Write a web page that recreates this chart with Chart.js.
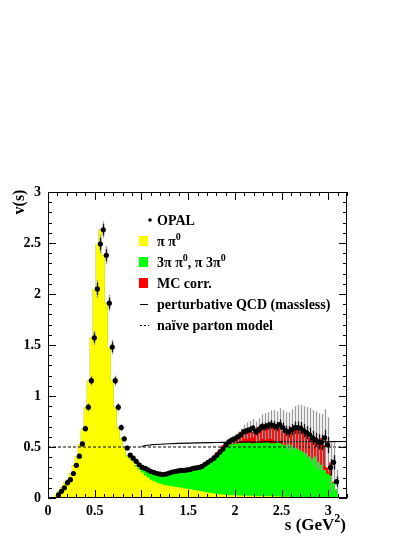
<!DOCTYPE html>
<html>
<head>
<meta charset="utf-8">
<script src="https://cdn.jsdelivr.net/npm/chart.js@4.4.1/dist/chart.umd.min.js"></script>
<style>
  html, body { margin: 0; padding: 0; background: #fff; }
  #chart { display: block; }
</style>
</head>
<body>
<canvas id="chart" width="415" height="537"></canvas>
<script>
// histogram bins of 0.032 GeV^2 from 0 to 3.2
const binWidth = 0.032;

// pi pi0 contribution (yellow)
const pipi0 = [
  0, 0, 0.01, 0.03, 0.065, 0.10, 0.15, 0.18, 0.24, 0.32,
  0.41, 0.53, 0.68, 0.89, 1.15, 1.57, 2.05, 2.49, 2.63, 2.38,
  1.91, 1.48, 1.15, 0.89, 0.69, 0.58, 0.49, 0.41, 0.38, 0.35,
  0.31, 0.28, 0.25, 0.22, 0.20, 0.18, 0.165, 0.15, 0.14, 0.13,
  0.125, 0.12, 0.115, 0.11, 0.105, 0.10, 0.095, 0.09, 0.085, 0.08,
  0.075, 0.07, 0.065, 0.06, 0.055, 0.05, 0.045, 0.04, 0.037, 0.034,
  0.03, 0.028, 0.027, 0.026, 0.025, 0.024, 0.023, 0.022, 0.021, 0.02,
  0.02, 0.018, 0.018, 0.017, 0.016, 0.016, 0.015, 0.014, 0.014, 0.013,
  0.012, 0.012, 0.011, 0.01, 0.01, 0.009, 0.009, 0.008, 0.008, 0.007,
  0.007, 0.006, 0.006, 0.005, 0.005, 0.005, 0.005, 0.005, 0, 0
];

// 3pi pi0, pi 3pi0 contribution (green)
const threePi = [
  0, 0, 0, 0, 0, 0, 0, 0, 0, 0,
  0, 0, 0, 0, 0, 0, 0, 0, 0, 0,
  0, 0, 0, 0, 0, 0, 0, 0.005, 0.005, 0.005,
  0.01, 0.015, 0.03, 0.045, 0.05, 0.06, 0.065, 0.075, 0.08, 0.095,
  0.11, 0.125, 0.135, 0.145, 0.155, 0.16, 0.17, 0.18, 0.195, 0.205,
  0.215, 0.23, 0.25, 0.275, 0.30, 0.325, 0.355, 0.39, 0.423, 0.466,
  0.49, 0.5, 0.5, 0.505, 0.51, 0.515, 0.515, 0.52, 0.525, 0.515,
  0.52, 0.525, 0.52, 0.53, 0.53, 0.52, 0.52, 0.53, 0.525, 0.51,
  0.505, 0.515, 0.505, 0.49, 0.475, 0.46, 0.445, 0.43, 0.40, 0.38,
  0.40, 0.35, 0.32, 0.27, 0.235, 0.215, 0.145, 0.075, 0, 0
];

// MC correction (red)
const mcCorr = [
  0, 0, 0, 0, 0, 0, 0, 0, 0, 0,
  0, 0, 0, 0, 0, 0, 0, 0, 0, 0,
  0, 0, 0, 0, 0, 0, 0, 0, 0, 0,
  0, 0, 0, 0, 0, 0, 0, 0.01, 0.01, 0.01,
  0.01, 0.01, 0.01, 0.01, 0.01, 0.01, 0.01, 0.01, 0.01, 0.01,
  0.01, 0.01, 0.015, 0.015, 0.015, 0.015, 0.02, 0.02, 0.02, 0.02,
  0.03, 0.042, 0.053, 0.069, 0.085, 0.111, 0.122, 0.128, 0.139, 0.115,
  0.13, 0.157, 0.162, 0.163, 0.174, 0.174, 0.165, 0.176, 0.151, 0.137,
  0.133, 0.143, 0.174, 0.19, 0.20, 0.191, 0.186, 0.182, 0.182, 0.183,
  0.143, 0.189, 0.264, 0.245, 0.06, 0.13, 0.01, 0, 0, 0
];

// OPAL measured v(s) per bin
const opal = [
  null, null, null, 0.03, 0.065, 0.10, 0.15, 0.18, 0.24, 0.32,
  0.41, 0.53, 0.68, 0.89, 1.15, 1.57, 2.05, 2.49, 2.63, 2.38,
  1.91, 1.48, 1.15, 0.89, 0.69, 0.58, 0.49, 0.42, 0.39, 0.36,
  0.325, 0.30, 0.29, 0.275, 0.26, 0.25, 0.24, 0.235, 0.23, 0.235,
  0.245, 0.255, 0.26, 0.265, 0.27, 0.27, 0.275, 0.28, 0.29, 0.295,
  0.30, 0.31, 0.33, 0.35, 0.37, 0.39, 0.42, 0.45, 0.48, 0.52,
  0.55, 0.57, 0.58, 0.60, 0.62, 0.65, 0.66, 0.67, 0.685, 0.65,
  0.67, 0.70, 0.70, 0.71, 0.72, 0.71, 0.70, 0.72, 0.69, 0.66,
  0.65, 0.67, 0.69, 0.69, 0.685, 0.66, 0.64, 0.62, 0.59, 0.57,
  0.55, 0.545, 0.59, 0.52, 0.30, 0.35, 0.16, null, null, null
];

// total errors (grey) and statistical errors (black)
const totErr = [
  0, 0, 0, 0.01, 0.012, 0.014, 0.015, 0.016, 0.018, 0.02,
  0.022, 0.025, 0.03, 0.04, 0.05, 0.07, 0.09, 0.09, 0.08, 0.09,
  0.08, 0.07, 0.05, 0.04, 0.035, 0.03, 0.025, 0.02, 0.02, 0.02,
  0.02, 0.015, 0.015, 0.015, 0.015, 0.015, 0.015, 0.015, 0.015, 0.015,
  0.015, 0.015, 0.015, 0.015, 0.015, 0.015, 0.015, 0.015, 0.015, 0.015,
  0.015, 0.02, 0.02, 0.02, 0.02, 0.02, 0.02, 0.02, 0.02, 0.03,
  0.035, 0.04, 0.045, 0.05, 0.06, 0.07, 0.08, 0.085, 0.09, 0.10,
  0.11, 0.12, 0.13, 0.13, 0.14, 0.15, 0.15, 0.16, 0.17, 0.18,
  0.19, 0.20, 0.21, 0.22, 0.23, 0.24, 0.25, 0.26, 0.27, 0.28,
  0.28, 0.28, 0.28, 0.27, 0.25, 0.20, 0.12, 0, 0, 0
];
const statErr = [
  0, 0, 0, 0.007, 0.008, 0.01, 0.01, 0.011, 0.012, 0.014,
  0.015, 0.017, 0.02, 0.027, 0.034, 0.05, 0.06, 0.06, 0.055, 0.06,
  0.055, 0.05, 0.035, 0.028, 0.024, 0.02, 0.017, 0.014, 0.014, 0.014,
  0.014, 0.01, 0.01, 0.01, 0.01, 0.01, 0.01, 0.01, 0.01, 0.01,
  0.01, 0.01, 0.01, 0.01, 0.01, 0.01, 0.01, 0.01, 0.01, 0.01,
  0.01, 0.012, 0.012, 0.012, 0.012, 0.012, 0.012, 0.012, 0.012, 0.015,
  0.015, 0.018, 0.02, 0.02, 0.025, 0.025, 0.03, 0.03, 0.03, 0.035,
  0.035, 0.04, 0.04, 0.04, 0.045, 0.045, 0.045, 0.05, 0.05, 0.05,
  0.055, 0.055, 0.06, 0.06, 0.06, 0.065, 0.065, 0.07, 0.07, 0.07,
  0.075, 0.075, 0.08, 0.08, 0.08, 0.07, 0.05, 0, 0, 0
];

// perturbative QCD (massless) and naive parton model
const qcdS = [1.0, 1.02, 1.05, 1.1, 1.2, 1.3, 1.4, 1.6, 1.8, 2.0, 2.4, 2.8, 3.2];
const qcdV = [0.503, 0.51, 0.515, 0.52, 0.527, 0.532, 0.536, 0.541, 0.544, 0.547, 0.55, 0.552, 0.554];
const naiveS = [0, 3.2];
const naiveV = [0.5, 0.5];

// axis tick labels
const xTicks = [0, 0.5, 1, 1.5, 2, 2.5, 3];
const yTicks = [0, 0.5, 1, 1.5, 2, 2.5, 3];

const legendLabels = [
  [['OPAL']],
  [['π π'], ['0', true]],
  [['3π π'], ['0', true], [', π 3π'], ['0', true]],
  [['MC corr.']],
  [['perturbative QCD (massless)']],
  [['naïve parton model']]
];

const YELLOW = '#ffff00';
const GREEN = '#00ff00';
const RED = '#ff0000';
const FONT = '"Liberation Serif", "Times New Roman", serif';

// step histogram points (lower bin edges + closing edge)
function histPoints(values) {
  const pts = values.map((v, i) => ({ x: i * binWidth, y: v }));
  pts.push({ x: values.length * binWidth, y: values[values.length - 1] });
  return pts;
}

const greenTop = pipi0.map((v, i) => v + threePi[i]);
const redTop = greenTop.map((v, i) => v + mcCorr[i]);

const opalPoints = [];
opal.forEach((v, i) => {
  if (v !== null) opalPoints.push({ x: (i + 0.5) * binWidth, y: v, tot: totErr[i], stat: statErr[i] });
});

function drawRich(ctx, x, y, parts, size, align) {
  const sup = Math.round(size * 0.7);
  let w = 0;
  parts.forEach(p => {
    ctx.font = 'bold ' + (p[1] ? sup : size) + 'px ' + FONT;
    w += ctx.measureText(p[0]).width;
  });
  let cx = align === 'right' ? x - w : x;
  ctx.textAlign = 'left';
  ctx.textBaseline = 'alphabetic';
  parts.forEach(p => {
    ctx.font = 'bold ' + (p[1] ? sup : size) + 'px ' + FONT;
    ctx.fillText(p[0], cx, p[1] ? y - size * 0.45 : y);
    cx += ctx.measureText(p[0]).width;
  });
}

const errorBars = {
  id: 'errorBars',
  beforeDatasetDraw(chart, args) {
    if (args.index !== 0) return;
    const ctx = chart.ctx;
    const xs = chart.scales.x, ys = chart.scales.y;
    ctx.save();
    ctx.lineWidth = 1.3;
    opalPoints.forEach(p => {
      const px = Math.round(xs.getPixelForValue(p.x)) + 0.5;
      ctx.strokeStyle = '#9a9a9a';
      ctx.beginPath();
      ctx.moveTo(px, ys.getPixelForValue(p.y - p.tot));
      ctx.lineTo(px, ys.getPixelForValue(p.y + p.tot));
      ctx.stroke();
      ctx.strokeStyle = '#111';
      ctx.beginPath();
      ctx.moveTo(px, ys.getPixelForValue(p.y - p.stat));
      ctx.lineTo(px, ys.getPixelForValue(p.y + p.stat));
      ctx.stroke();
    });
    ctx.restore();
  }
};

const frameAndLegend = {
  id: 'frameAndLegend',
  afterDraw(chart) {
    const ctx = chart.ctx;
    const a = chart.chartArea;
    const xs = chart.scales.x, ys = chart.scales.y;
    ctx.save();
    ctx.strokeStyle = '#000';
    ctx.lineWidth = 1;
    ctx.strokeRect(a.left + 0.5, a.top + 0.5, a.right - a.left - 1, a.bottom - a.top - 1);

    // inward ticks on all four sides
    ctx.beginPath();
    for (let i = 0; i <= 32; i++) {
      const px = Math.round(xs.getPixelForValue(i / 10)) + 0.5;
      const len = i % 5 === 0 ? 8 : 4;
      ctx.moveTo(px, a.bottom); ctx.lineTo(px, a.bottom - len);
      ctx.moveTo(px, a.top); ctx.lineTo(px, a.top + len);
    }
    for (let i = 0; i <= 30; i++) {
      const py = Math.round(ys.getPixelForValue(i / 10)) + 0.5;
      const len = i % 5 === 0 ? 8 : 4;
      ctx.moveTo(a.left, py); ctx.lineTo(a.left + len, py);
      ctx.moveTo(a.right, py); ctx.lineTo(a.right - len, py);
    }
    ctx.stroke();

    // axis titles
    ctx.fillStyle = '#000';
    ctx.save();
    ctx.translate(24, 202);
    ctx.rotate(-Math.PI / 2);
    ctx.font = 'bold 16px ' + FONT;
    ctx.textAlign = 'center';
    ctx.textBaseline = 'alphabetic';
    ctx.fillText('v(s)', 0, 0);
    ctx.restore();
    drawRich(ctx, a.right - 1, 530, [['s (GeV'], ['2', true], [')']], 17, 'right');

    // legend
    const rowY = [220, 241, 262, 283, 304, 325];
    const markX = 139, textX = 157;
    const marks = ['dot', YELLOW, GREEN, RED, 'line', 'dash'];
    legendLabels.forEach((parts, k) => {
      const y = rowY[k];
      const m = marks[k];
      if (m === 'dot') {
        ctx.beginPath();
        ctx.arc(150, y, 1.8, 0, Math.PI * 2);
        ctx.fill();
      } else if (m === 'line') {
        ctx.beginPath();
        ctx.moveTo(markX + 1, y + 0.5); ctx.lineTo(markX + 9, y + 0.5);
        ctx.stroke();
      } else if (m === 'dash') {
        ctx.setLineDash([2, 2]);
        ctx.beginPath();
        ctx.moveTo(markX + 1, y + 0.5); ctx.lineTo(markX + 10, y + 0.5);
        ctx.stroke();
        ctx.setLineDash([]);
      } else {
        ctx.fillStyle = m;
        ctx.fillRect(markX, y - 5, 9, 10);
        ctx.fillStyle = '#000';
      }
      drawRich(ctx, textX, y + 5, parts, 14, 'left');
    });
    ctx.restore();
  }
};

const tickFont = { family: FONT, size: 14, weight: 'bold' };

new Chart(document.getElementById('chart'), {
  type: 'line',
  data: {
    datasets: [
      {
        label: 'OPAL',
        data: opalPoints,
        showLine: false,
        pointRadius: 2.6,
        pointBackgroundColor: '#000',
        pointBorderWidth: 0,
        order: 0
      },
      {
        label: 'perturbative QCD (massless)',
        data: qcdS.map((s, i) => ({ x: s, y: qcdV[i] })),
        borderColor: '#000',
        borderWidth: 1.2,
        pointRadius: 0,
        cubicInterpolationMode: 'monotone',
        order: 1
      },
      {
        label: 'naive parton model',
        data: naiveS.map((s, i) => ({ x: s, y: naiveV[i] })),
        borderColor: '#000',
        borderWidth: 1,
        borderDash: [3, 2],
        pointRadius: 0,
        order: 2
      },
      {
        label: 'pi pi0',
        data: histPoints(pipi0),
        stepped: 'after',
        borderWidth: 0,
        borderColor: 'rgba(0,0,0,0)',
        backgroundColor: YELLOW,
        fill: 'origin',
        pointRadius: 0,
        order: 3
      },
      {
        label: '3pi pi0, pi 3pi0',
        data: histPoints(greenTop),
        stepped: 'after',
        borderWidth: 0,
        borderColor: 'rgba(0,0,0,0)',
        backgroundColor: GREEN,
        fill: 'origin',
        pointRadius: 0,
        order: 4
      },
      {
        label: 'MC corr.',
        data: histPoints(redTop),
        stepped: 'after',
        borderWidth: 0,
        borderColor: 'rgba(0,0,0,0)',
        backgroundColor: RED,
        fill: 'origin',
        pointRadius: 0,
        order: 5
      }
    ]
  },
  options: {
    responsive: false,
    animation: false,
    layout: { padding: { left: 0, top: 192, right: 68, bottom: 0 } },
    plugins: { legend: { display: false }, tooltip: { enabled: false } },
    scales: {
      x: {
        type: 'linear',
        min: 0,
        max: 3.2,
        afterFit: s => { s.height = 39; },
        afterBuildTicks: s => { s.ticks = xTicks.map(v => ({ value: v })); },
        grid: { display: false, drawTicks: false },
        border: { display: false },
        ticks: {
          padding: 5,
          color: '#000',
          font: tickFont,
          maxRotation: 0,
          autoSkip: false,
          callback: v => String(v)
        }
      },
      y: {
        min: 0,
        max: 3,
        afterFit: s => { s.width = 48; },
        afterBuildTicks: s => { s.ticks = yTicks.map(v => ({ value: v })); },
        grid: { display: false, drawTicks: false },
        border: { display: false },
        ticks: {
          padding: 7,
          color: '#000',
          font: tickFont,
          callback: v => String(v)
        }
      }
    }
  },
  plugins: [errorBars, frameAndLegend]
});
</script>
</body>
</html>
